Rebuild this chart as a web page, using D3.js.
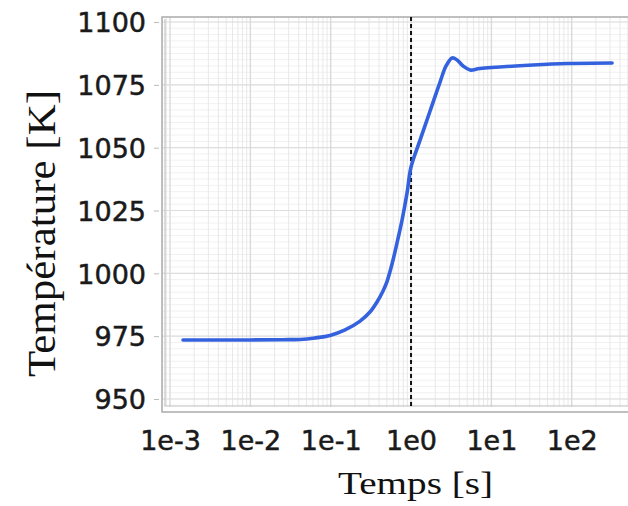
<!DOCTYPE html>
<html>
<head>
<meta charset="utf-8">
<script src="https://cdn.jsdelivr.net/npm/d3@7"></script>
<style>
  html, body { margin: 0; padding: 0; background: #fff; }
  svg { display: block; }
</style>
</head>
<body>
<svg id="chart" width="628" height="506"></svg>
<script>
// Temperature history (log time axis)
const timeS = [0.00145, 0.01, 0.025, 0.0415, 0.0637, 0.098, 0.151, 0.232, 0.308, 0.377, 0.448, 0.502, 0.58, 0.669, 0.773, 0.892, 1.0, 1.295, 1.725, 2.297, 2.728, 3.243, 3.742, 4.443, 5.43, 7.23, 33, 88, 318];
const temperatureK = [973.5, 973.5, 973.6, 973.7, 974.3, 975.3, 977.5, 981.0, 984.6, 988.6, 993.0, 996.7, 1003.7, 1012.1, 1021.2, 1032.0, 1042.3, 1053.0, 1064.6, 1076.1, 1082.5, 1085.7, 1084.9, 1082.5, 1080.9, 1081.5, 1082.9, 1083.5, 1083.7];

const xTickValues = [1e-3, 1e-2, 1e-1, 1e0, 1e1, 1e2];
const xTickLabels = ["1e-3", "1e-2", "1e-1", "1e0", "1e1", "1e2"];
const yTickValues = [950, 975, 1000, 1025, 1050, 1075, 1100];
const markerTime = [1.0];

const svg = d3.select("#chart");

const frame = { left: 162, top: 17, right: 640, bottom: 407 };

const x = d3.scaleLog()
  .domain([Math.pow(10, -3.1), Math.pow(10, 2.85)])
  .range([frame.left, frame.right]);

const y = d3.scaleLinear()
  .domain([950, 1100])
  .range([399, 22]);

// clip for plot area
svg.append("defs").append("clipPath").attr("id", "plotClip")
  .append("rect")
  .attr("x", frame.left).attr("y", frame.top)
  .attr("width", frame.right - frame.left).attr("height", frame.bottom - frame.top);

const grid = svg.append("g").attr("clip-path", "url(#plotClip)");

// minor horizontal grid
const yMinor = d3.range(945, 1103, 2.5);
grid.selectAll("line.hminor").data(yMinor).join("line")
  .attr("x1", frame.left).attr("x2", frame.right)
  .attr("y1", d => y(d)).attr("y2", d => y(d))
  .attr("stroke", "#f1f1f1").attr("stroke-width", 1);

// minor vertical grid (2..9 per decade)
const xMinor = [];
for (let e = -4; e <= 2; e++) for (let m = 2; m <= 9; m++) xMinor.push(m * Math.pow(10, e));
grid.selectAll("line.vminor").data(xMinor).join("line")
  .attr("x1", d => x(d)).attr("x2", d => x(d))
  .attr("y1", frame.top).attr("y2", frame.bottom)
  .attr("stroke", "#e8e8e8").attr("stroke-width", 1);

// major grid
grid.selectAll("line.hmajor").data(yTickValues).join("line")
  .attr("x1", frame.left).attr("x2", frame.right)
  .attr("y1", d => y(d)).attr("y2", d => y(d))
  .attr("stroke", "#dedede").attr("stroke-width", 1.2);
grid.selectAll("line.vmajor").data(xTickValues).join("line")
  .attr("x1", d => x(d)).attr("x2", d => x(d))
  .attr("y1", frame.top).attr("y2", frame.bottom)
  .attr("stroke", "#dadada").attr("stroke-width", 1.4);

// frame
svg.append("path")
  .attr("d", `M${frame.right},${frame.top}H${frame.left}V${frame.bottom + 5}H${frame.right}`)
  .attr("fill", "none").attr("stroke", "#aaa").attr("stroke-width", 1.5);
svg.append("path")
  .attr("d", `M${frame.left + 3},${frame.top + 2}V${frame.bottom - 1}H${frame.right}`)
  .attr("fill", "none").attr("stroke", "#c4c4c4").attr("stroke-width", 1.2);

// y ticks
const yAxis = d3.axisLeft(y).tickValues(yTickValues).tickSize(5).tickPadding(8).tickFormat(d3.format("d"));
const gy = svg.append("g").attr("transform", `translate(${frame.left - 3},0)`).call(yAxis);
gy.select(".domain").remove();
gy.selectAll(".tick line").attr("stroke", "#bbb");
gy.selectAll(".tick text")
  .attr("font-family", "'DejaVu Sans', sans-serif")
  .attr("font-size", 27).attr("fill", "#1a1a1a")
  .attr("stroke", "#1a1a1a").attr("stroke-width", 0.5)
  .attr("dy", "0.36em");

// x ticks
const xAxis = d3.axisBottom(x).tickValues(xTickValues).tickSize(0).tickPadding(0)
  .tickFormat((d, i) => xTickLabels[i]);
const gx = svg.append("g").call(xAxis);
gx.select(".domain").remove();
gx.selectAll(".tick text")
  .attr("font-family", "'DejaVu Sans', sans-serif")
  .attr("font-size", 27).attr("fill", "#1a1a1a")
  .attr("stroke", "#1a1a1a").attr("stroke-width", 0.5)
  .attr("y", 450).attr("dy", 0);

// dashed marker at t = 1 s
svg.append("g").selectAll("line").data(markerTime).join("line")
  .attr("x1", d => x(d)).attr("x2", d => x(d))
  .attr("y1", frame.top).attr("y2", frame.bottom)
  .attr("stroke", "#111").attr("stroke-width", 2).attr("stroke-dasharray", "4,3");

// temperature curve
const line = d3.line()
  .x((d, i) => x(timeS[i]))
  .y((d, i) => y(temperatureK[i]))
  .curve(d3.curveCatmullRom.alpha(0.5));
svg.append("path")
  .datum(temperatureK)
  .attr("d", line)
  .attr("fill", "none")
  .attr("stroke", "#3462de")
  .attr("stroke-width", 3.6)
  .attr("stroke-linejoin", "round")
  .attr("stroke-linecap", "round");

// axis titles
svg.append("text")
  .attr("x", 338).attr("y", 494)
  .attr("font-family", "'Liberation Serif', 'Times New Roman', serif")
  .attr("font-size", 31).attr("fill", "#111")
  .attr("textLength", 155).attr("lengthAdjust", "spacingAndGlyphs")
  .text("Temps [s]");

svg.append("text")
  .attr("transform", "translate(55,377) rotate(-90)")
  .attr("font-family", "'Liberation Serif', 'Times New Roman', serif")
  .attr("font-size", 41).attr("fill", "#111")
  .attr("textLength", 287).attr("lengthAdjust", "spacingAndGlyphs")
  .text("Température [K]");
</script>
</body>
</html>
